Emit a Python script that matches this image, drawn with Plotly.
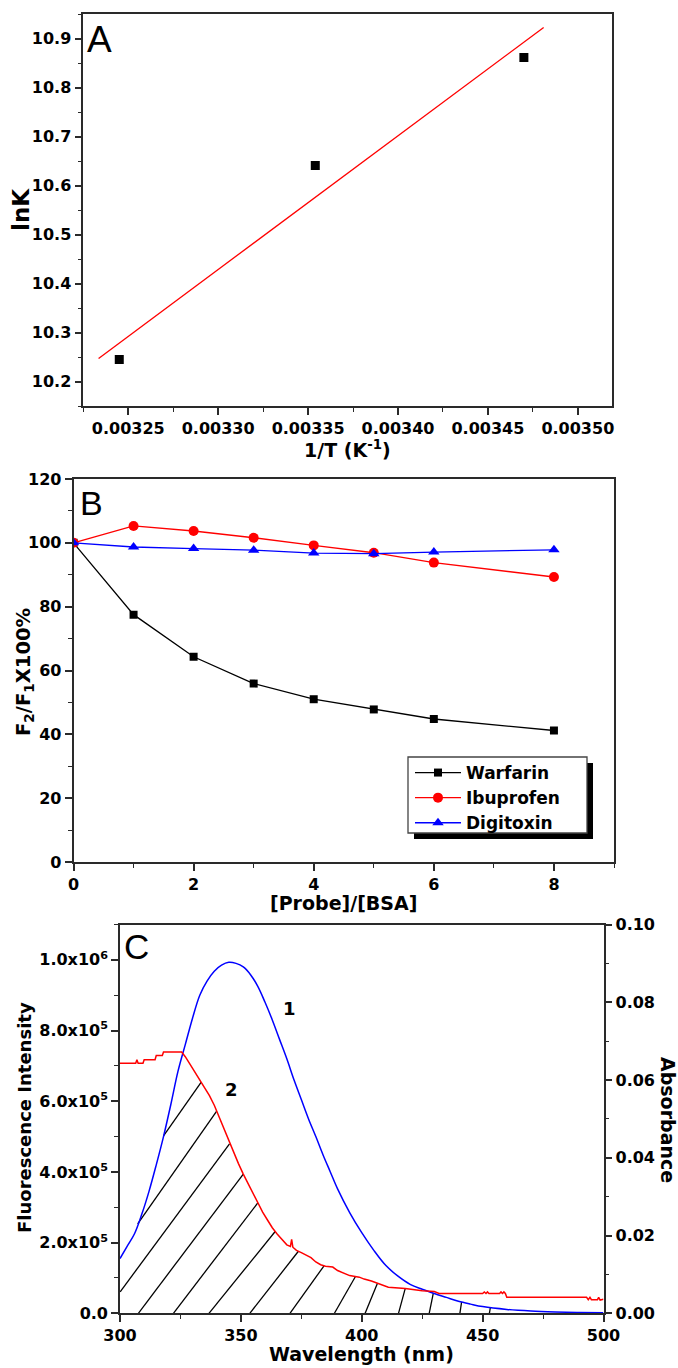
import numpy as np
import plotly.graph_objects as go

W, H = 678, 1368

# ---------------- Panel A : van't Hoff plot ----------------
inv_T = [0.003245, 0.003354, 0.003470]
ln_K = [10.245, 10.641, 10.861]
FIT_SPAN = (0.0032335, 0.003481)

# ---------------- Panel B : site-marker competition ----------------
probe_ratio = [0, 1, 2, 3, 4, 5, 6, 8]
warfarin = [100, 77.5, 64.3, 55.9, 51.0, 47.8, 44.8, 41.2]
ibuprofen = [100, 105.3, 103.7, 101.6, 99.2, 96.9, 93.8, 89.3]
digitoxin = [100, 98.7, 98.2, 97.7, 96.8, 96.6, 97.1, 97.8]

# ---------------- Panel C : spectral overlap ----------------
# curve 1: BSA fluorescence emission (left axis)
em_nm = [300, 303, 306, 309, 312, 315, 318, 321, 324, 327, 330, 333, 336, 339,
         342, 345, 348, 351, 354, 357, 360, 363, 366, 369, 372, 375, 378, 381,
         384, 387, 390, 395, 400, 405, 410, 415, 420, 425, 430, 435, 440, 445,
         450, 460, 470, 480, 490, 500]
em_int = [0.155e6, 0.190e6, 0.225e6, 0.280e6, 0.345e6, 0.420e6, 0.500e6, 0.590e6,
          0.685e6, 0.760e6, 0.835e6, 0.900e6, 0.940e6, 0.968e6, 0.985e6, 0.993e6,
          0.990e6, 0.980e6, 0.958e6, 0.925e6, 0.880e6, 0.830e6, 0.775e6, 0.720e6,
          0.660e6, 0.605e6, 0.550e6, 0.500e6, 0.448e6, 0.400e6, 0.352e6, 0.285e6,
          0.228e6, 0.178e6, 0.135e6, 0.105e6, 0.082e6, 0.068e6, 0.056e6, 0.045e6,
          0.034e6, 0.026e6, 0.019e6, 0.011e6, 0.0065e6, 0.004e6, 0.0025e6, 0.0015e6]

# curve 2: probe absorption (right axis)
abs_nm = [300, 306.5, 307, 307.5, 309.5, 310, 314.5, 315, 317.5, 318, 325.5, 327,
          329, 331, 333, 335, 337, 339, 341, 343, 345, 347, 349, 351, 353, 355,
          357, 359, 361, 363, 365, 367, 369, 370.5, 371, 371.5, 373, 375, 377,
          379, 381, 383, 385, 388, 390, 393, 395, 399, 401, 404, 406, 409, 411,
          418, 421, 425, 430, 432, 450, 450.7, 451.4, 452, 452.6, 457, 457.6,
          458.2, 458.8, 459.4, 460, 493, 493.7, 494.4, 495, 497.5, 498, 498.6, 500]
abs_val = [0.0643, 0.0643, 0.0652, 0.0643, 0.0643, 0.0652, 0.0652, 0.0663, 0.0663,
           0.0672, 0.0672, 0.0660, 0.0640, 0.0620, 0.0600, 0.0582, 0.0560, 0.0535,
           0.0505, 0.0472, 0.0440, 0.0412, 0.0385, 0.0358, 0.0333, 0.0308, 0.0284,
           0.0260, 0.0240, 0.0220, 0.0204, 0.0190, 0.0176, 0.0172, 0.0190, 0.0170,
           0.0162, 0.0156, 0.0149, 0.0143, 0.0132, 0.0125, 0.0121, 0.0119, 0.0110,
           0.0102, 0.0097, 0.0093, 0.0088, 0.0083, 0.0078, 0.0072, 0.0067, 0.0064,
           0.0061, 0.0058, 0.0056, 0.0051, 0.0051, 0.0055, 0.0051, 0.0055, 0.0051,
           0.0051, 0.0055, 0.0051, 0.0055, 0.0051, 0.0041, 0.0041, 0.0035, 0.0041,
           0.0035, 0.0035, 0.0041, 0.0034, 0.0036]

# hatch strokes of the overlap area: foot on the baseline, head on the upper edge
HATCH_FOOT = [266.4, 281.4, 293.5, 307.6, 322.1, 336.8, 353.7, 370.3, 388.7,
              401.4, 415.2, 427.9, 440.6, 452.8]
HATCH_HEAD = [333.6, 340.0, 345.3, 351.0, 357.0, 364.2, 373.8, 384.4, 397.4,
              406.5, 418.0, 429.6, 441.3, 453.2]

# ---------------- styling ----------------
FRAME = "#2a2a2a"
TICK_FONT = dict(family="DejaVu Sans", size=16, color="black", weight="bold")
TITLE_FAMILY = "DejaVu Sans"


def xdom(x0, x1):
    return [x0 / W, x1 / W]


def ydom(y0, y1):
    return [1 - y1 / H, 1 - y0 / H]


def axis(rng, dtick, minor_dtick, tick0=None, **kw):
    d = dict(range=rng, dtick=dtick, showline=True, linecolor=FRAME, linewidth=1.6,
             mirror=True, ticks="outside", ticklen=7, tickwidth=1.5, tickcolor=FRAME,
             showgrid=False, zeroline=False, tickfont=TICK_FONT, automargin=False,
             minor=dict(ticks="outside", ticklen=4, tickwidth=1.3, tickcolor=FRAME,
                        dtick=minor_dtick, showgrid=False))
    if tick0 is not None:
        d["tick0"] = tick0
        d["minor"]["tick0"] = tick0
    d.update(kw)
    return d


fig = go.Figure()

# ---- A
fit = np.polyfit(inv_T, ln_K, 1)
fx = np.array(FIT_SPAN)
fig.add_trace(go.Scatter(x=fx, y=np.polyval(fit, fx), mode="lines",
                         line=dict(color="#ff0000", width=1.3),
                         xaxis="x", yaxis="y", showlegend=False))
fig.add_trace(go.Scatter(x=inv_T, y=ln_K, mode="markers",
                         marker=dict(symbol="square", size=9, color="black"),
                         xaxis="x", yaxis="y", showlegend=False))

# ---- B
for name, vals, sym, col, size in [
        ("Warfarin", warfarin, "square", "black", 8),
        ("Ibuprofen", ibuprofen, "circle", "#ff0000", 10),
        ("Digitoxin", digitoxin, "triangle-up", "#0000ff", 10)]:
    fig.add_trace(go.Scatter(x=probe_ratio, y=vals, mode="lines+markers", name=name,
                             line=dict(color=col, width=1.3),
                             marker=dict(symbol=sym, size=size, color=col),
                             xaxis="x2", yaxis="y2"))

# ---- C
SCALE = 1.1e6 / 0.10   # left-axis counts per absorbance unit


def overlap_top(x):
    return np.minimum(np.interp(x, em_nm, em_int),
                      np.interp(x, abs_nm, abs_val) * SCALE)


hx, hy = [], []
for foot, head in zip(HATCH_FOOT, HATCH_HEAD):
    top = overlap_top(head)
    t = np.linspace(0, 1, 600)
    xs = foot + t * (head - foot)
    ys = t * top
    ok = (xs >= 300) & (ys <= overlap_top(xs) + 0.004e6)
    bad = np.where(~ok)[0]
    start = bad[-1] + 1 if len(bad) else 0
    if start >= len(t) - 1:
        continue
    hx += [xs[start], head, None]
    hy += [ys[start], top, None]

fig.add_trace(go.Scatter(x=hx, y=hy, mode="lines", line=dict(color="black", width=1.3),
                         xaxis="x3", yaxis="y3", showlegend=False, hoverinfo="skip"))
fig.add_trace(go.Scatter(x=em_nm, y=em_int, mode="lines", line=dict(color="#0000ff", width=1.5),
                         line_shape="spline", xaxis="x3", yaxis="y3", showlegend=False))
fig.add_trace(go.Scatter(x=abs_nm, y=abs_val, mode="lines", line=dict(color="#ff0000", width=1.5),
                         xaxis="x3", yaxis="y4", showlegend=False))

# ---------------- layout ----------------
A_X, A_Y = (83.3, 612), (14, 406)
B_X, B_Y = (73.5, 614), (479, 862)
C_X, C_Y = (120, 603.5), (924.5, 1313.3)

sci_vals = [0, 2e5, 4e5, 6e5, 8e5, 1e6]
sci_text = ["0.0", "2.0x10<sup>5</sup>", "4.0x10<sup>5</sup>", "6.0x10<sup>5</sup>",
            "8.0x10<sup>5</sup>", "1.0x10<sup>6</sup>"]

# legend frame (pixels) and its drop shadow offset
LEG_X0, LEG_Y0, LEG_X1, LEG_Y1 = 408, 757, 587, 833
SHADOW = 6

fig.update_layout(
    width=W, height=H, margin=dict(l=0, r=0, t=0, b=0),
    paper_bgcolor="white", plot_bgcolor="white",
    xaxis=axis([0.003225, 0.003519], 0.00005, 0.000025, tick0=0.00325,
               tickformat=".5f", domain=xdom(*A_X), anchor="y"),
    yaxis=axis([10.15, 10.95], 0.1, 0.05, tick0=10.2, tickformat=".1f",
               domain=ydom(*A_Y), anchor="x"),
    xaxis2=axis([0, 9], 2, 1, tick0=0, domain=xdom(*B_X), anchor="y2"),
    yaxis2=axis([0, 120], 20, 10, tick0=0, domain=ydom(*B_Y), anchor="x2"),
    xaxis3=axis([300, 500], 50, 25, tick0=300, domain=xdom(*C_X), anchor="y3"),
    yaxis3=axis([0, 1.1e6], None, 1e5, tick0=0, tickmode="array",
                tickvals=sci_vals, ticktext=sci_text, domain=ydom(*C_Y), anchor="x3"),
    yaxis4=axis([0, 0.10], 0.02, 0.01, tick0=0, tickformat=".2f", overlaying="y3",
                side="right", anchor="x3", mirror=False, domain=ydom(*C_Y)),
    legend=dict(x=(LEG_X0 + 2) / W, y=1 - (LEG_Y0 - 2) / H, xanchor="left", yanchor="top",
                bgcolor="rgba(0,0,0,0)", borderwidth=0,
                font=dict(family="DejaVu Sans", size=17, color="black", weight="bold"),
                tracegroupgap=0, itemwidth=46),
    showlegend=True,
)
fig.layout.yaxis3.minor.tick0 = 0
fig.layout.yaxis3.minor.dtick = 1e5

# legend drop shadow and frame
fig.add_shape(type="rect", xref="paper", yref="paper",
              x0=(LEG_X0 + SHADOW) / W, x1=(LEG_X1 + SHADOW) / W,
              y0=1 - (LEG_Y1 + SHADOW) / H, y1=1 - (LEG_Y0 + SHADOW) / H,
              fillcolor="black", line=dict(width=0), layer="above")
fig.add_shape(type="rect", xref="paper", yref="paper",
              x0=LEG_X0 / W, x1=LEG_X1 / W, y0=1 - LEG_Y1 / H, y1=1 - LEG_Y0 / H,
              fillcolor="white", line=dict(color="#444444", width=1.3), layer="above")


def label(text, x, y, size, angle=0, family=TITLE_FAMILY, bold=True):
    fig.add_annotation(text=text, x=x / W, y=1 - y / H, xref="paper", yref="paper",
                       showarrow=False, textangle=angle, xanchor="center", yanchor="middle",
                       font=dict(family=family, size=size, color="black",
                                 weight="bold" if bold else "normal"))


label("1/T (K<sup>-1</sup>)", 347.7, 449, 19)
label("lnK", 21, 210, 23, angle=-90)
label("[Probe]/[BSA]", 343.8, 903, 19)
label("F<sub>2</sub>/F<sub>1</sub>X100%", 24, 672, 19.5, angle=-90)
label("Wavelength (nm)", 361.8, 1354, 19)
label("Fluorescence Intensity", 24, 1118, 18, angle=-90)
label("Absorbance", 668, 1120, 19, angle=90)

label("A", 99.7, 40, 37, family="Liberation Sans", bold=False)
label("B", 91, 503, 34, family="Liberation Sans", bold=False)
label("C", 136, 946, 35, family="Liberation Sans", bold=False)

# curve numbers in panel C
fig.add_annotation(text="1", x=370.3, y=0.861e6, xref="x3", yref="y3", showarrow=False,
                   font=dict(family="DejaVu Sans", size=18, color="black", weight="bold"))
fig.add_annotation(text="2", x=346, y=0.632e6, xref="x3", yref="y3", showarrow=False,
                   font=dict(family="DejaVu Sans", size=18, color="black", weight="bold"))

fig.write_html("out.html")
